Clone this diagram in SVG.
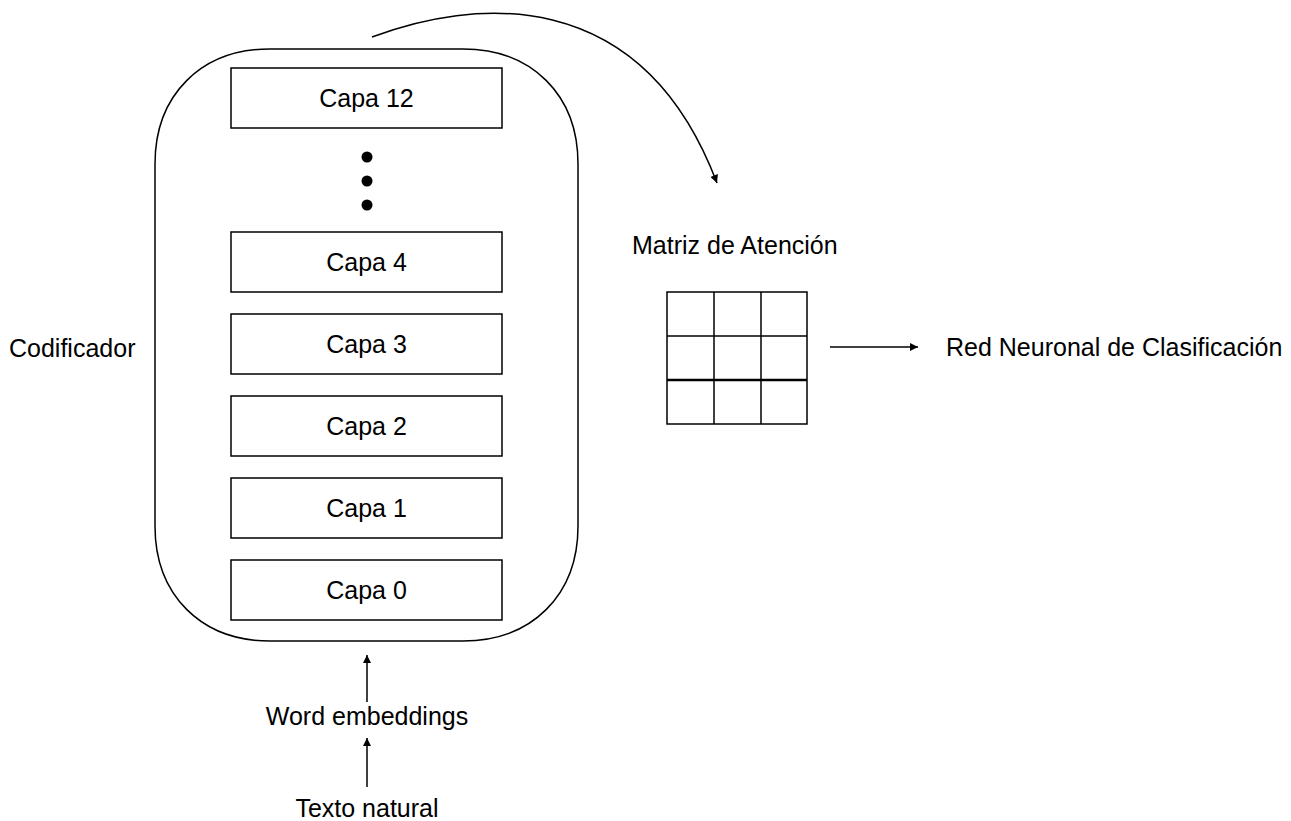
<svg xmlns="http://www.w3.org/2000/svg" width="1291" height="821" viewBox="0 0 1291 821">
<style>
text{font-family:"Liberation Sans",Arial,sans-serif;font-size:25px;fill:#000}
.box{fill:#fff;stroke:#000;stroke-width:1.5}
.ln{fill:none;stroke:#000;stroke-width:1.5}
.mid{text-anchor:middle}
</style>
<defs>
<marker id="ah" viewBox="0 0 10 10" refX="10" refY="5" markerWidth="9" markerHeight="8" markerUnits="userSpaceOnUse" orient="auto">
<path d="M0,0 L10,5 L0,10 Z" fill="#000"/>
</marker>
</defs>
<rect width="1291" height="821" fill="#fff"/>
<g id="encoder">
<path class="ln" d="M270,49 H463 C532,49 578,95 578,164 V526 C578,595 532,641 463,641 H270 C201,641 155,595 155,526 V164 C155,95 201,49 270,49 Z"/>
<text x="9" y="357">Codificador</text>
</g>
<g id="capa12"><rect class="box" x="231" y="68" width="271" height="60"/><text class="mid" x="366.5" y="107">Capa 12</text></g>
<g id="dots">
<circle cx="367" cy="157" r="5.5"/><circle cx="367" cy="181" r="5.5"/><circle cx="367" cy="205" r="5.5"/>
</g>
<g id="capa4"><rect class="box" x="231" y="232" width="271" height="60"/><text class="mid" x="366.5" y="271">Capa 4</text></g>
<g id="capa3"><rect class="box" x="231" y="314" width="271" height="60"/><text class="mid" x="366.5" y="353">Capa 3</text></g>
<g id="capa2"><rect class="box" x="231" y="396" width="271" height="60"/><text class="mid" x="366.5" y="435">Capa 2</text></g>
<g id="capa1"><rect class="box" x="231" y="478" width="271" height="60"/><text class="mid" x="366.5" y="517">Capa 1</text></g>
<g id="capa0"><rect class="box" x="231" y="560" width="271" height="60"/><text class="mid" x="366.5" y="599">Capa 0</text></g>
<g id="word-embeddings"><text class="mid" x="367" y="725">Word embeddings</text></g>
<g id="texto-natural"><text class="mid" x="367" y="817">Texto natural</text></g>
<g id="matriz">
<text x="632" y="254">Matriz de Atención</text>
<rect x="667" y="292" width="140" height="132" class="ln"/>
<line x1="714" y1="292" x2="714" y2="424" class="ln"/>
<line x1="761" y1="292" x2="761" y2="424" class="ln"/>
<line x1="667" y1="336" x2="807" y2="336" class="ln"/>
<line x1="667" y1="380" x2="807" y2="380" stroke="#000" stroke-width="2.5"/>
</g>
<g id="red-neuronal"><text x="946" y="356">Red Neuronal de Clasificación</text></g>
<g id="connectors">
<line x1="367" y1="702" x2="367" y2="655" class="ln" marker-end="url(#ah)"/>
<line x1="367" y1="787" x2="367" y2="738" class="ln" marker-end="url(#ah)"/>
<line x1="830" y1="347" x2="918" y2="347" class="ln" marker-end="url(#ah)"/>
<path d="M372,37 C470,0 640,-20 717,183" class="ln" marker-end="url(#ah)"/>
</g>
</svg>
